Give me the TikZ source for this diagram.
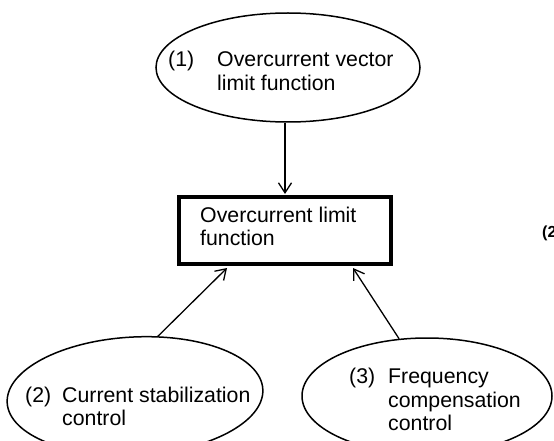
\documentclass[tikz,border=0pt]{standalone}
\usepackage{fontspec}
\setmainfont{Liberation Sans}
\usetikzlibrary{shapes.geometric,arrows.meta}
\begin{document}
\begin{tikzpicture}[x=1pt,y=-1pt,
  oval/.style={draw,ellipse,line width=1.5pt,inner sep=0pt},
  bigbox/.style={draw,rectangle,line width=4pt,inner sep=0pt},
  txt/.style={anchor=base west,inner sep=0pt,font=\fontsize{21.3}{23}\selectfont},
  arr/.style={line width=1.3pt,-{Straight Barb[length=10pt,width=13pt]}}]
\useasboundingbox (0,0) rectangle (554,441);
\clip (0,0) rectangle (554,441);
% shapes
\node[oval,minimum width=264pt,minimum height=109pt] (e1) at (288,67.5) {};
\node[bigbox,minimum width=212pt,minimum height=67pt] (box) at (285,230.5) {};
\node[oval,minimum width=256pt,minimum height=118pt,rotate=3] (e2) at (135,396) {};
\node[oval,minimum width=250pt,minimum height=116pt] (e3) at (427,396) {};
% texts
\node[txt] (t1a) at (168,67) {(1)};
\node[txt] (t1b) at (217,67) {Overcurrent vector};
\node[txt] (t1c) at (217,91) {limit function};
\node[txt] (tba) at (200,222) {Overcurrent limit};
\node[txt] (tbb) at (200,245) {function};
\node[txt] (t2a) at (25,402) {(2)};
\node[txt] (t2b) at (62,402) {Current stabilization};
\node[txt] (t2c) at (62,425) {control};
\node[txt] (t3a) at (349,383) {(3)};
\node[txt] (t3b) at (388,383) {Frequency};
\node[txt] (t3c) at (388,407) {compensation};
\node[txt] (t3d) at (388,430) {control};
\node[anchor=base west,inner sep=0pt,font=\fontsize{16}{18}\selectfont\bfseries] (cut) at (542,237) {(2};
% connectors
\draw[arr] (e1.south -| box.north) -- ([yshift=1pt]box.north);
\draw[arr] (e2.66) -- ([xshift=-58pt,yshift=-2pt]box.south);
\draw[arr] (e3.116.6) -- ([xshift=68pt,yshift=-2pt]box.south);
\end{tikzpicture}
\end{document}
